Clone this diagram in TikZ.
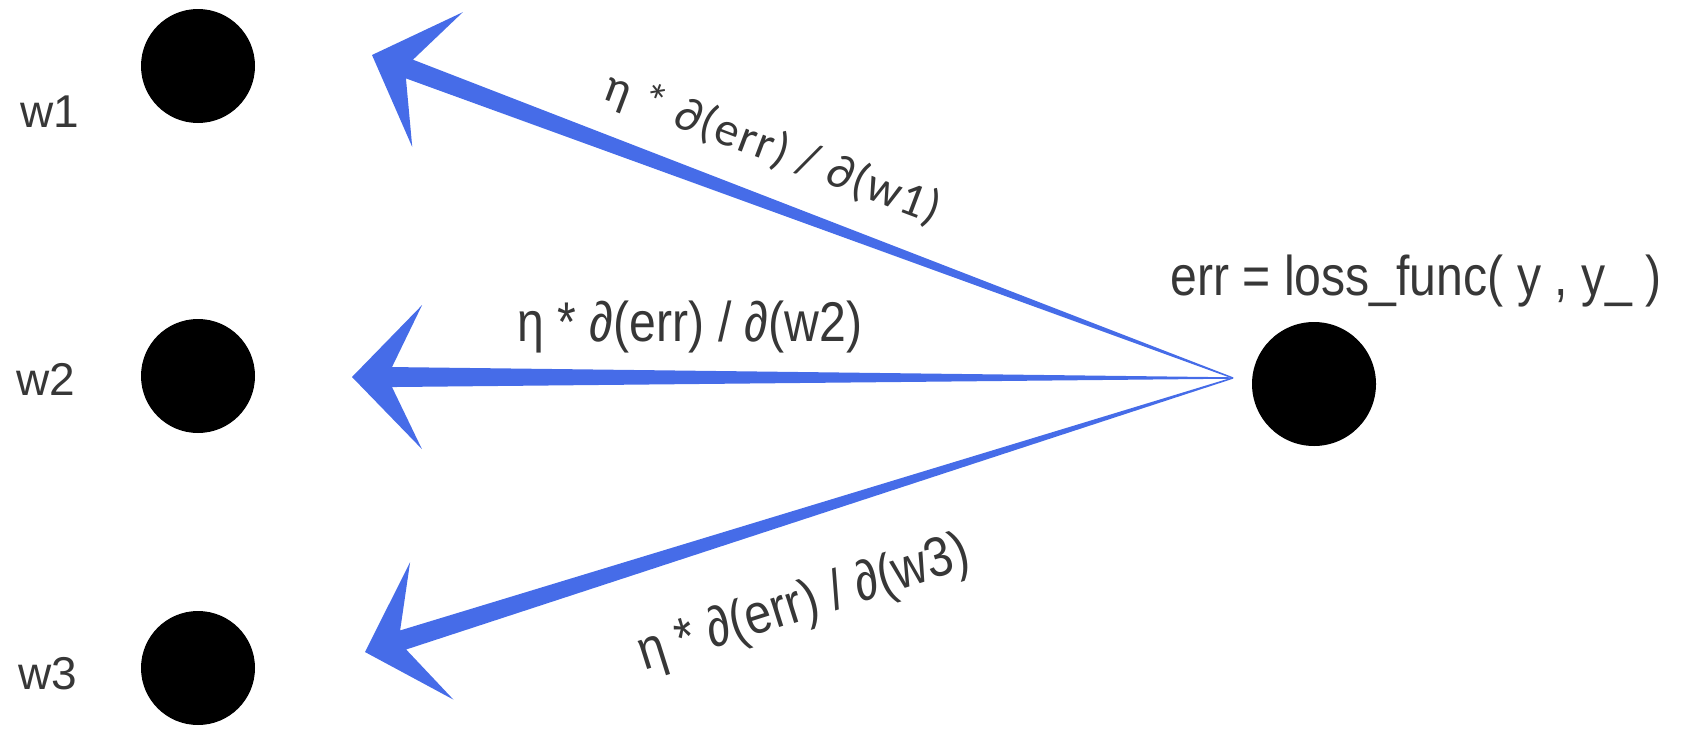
\documentclass[tikz,border=0pt]{standalone}
\usepackage{fontspec}
\setmainfont{Liberation Sans}
\newfontfamily\narrowfont[FakeStretch=0.86]{Liberation Sans}
\newfontfamily\calfont[LetterSpace=3]{Carlito}
\usetikzlibrary{calc}
\definecolor{arrowblue}{RGB}{70,108,232}
\definecolor{txtgray}{RGB}{55,55,55}
\newcommand\gradarrow[2]{%
  \coordinate (barb) at ($(#1)!70pt!(#2)$);
  \coordinate (notch) at ($(#1)!40pt!(#2)$);
  \fill[arrowblue] (#1) -- ($(barb)!72pt!90:(#2)$) -- ($(notch)!10pt!90:(#2)$)
    -- ($(#2)!0.7pt!-90:(#1)$) -- ($(#2)!0.7pt!90:(#1)$)
    -- ($(notch)!10pt!-90:(#2)$) -- ($(barb)!72pt!-90:(#2)$) -- cycle;
}
\begin{document}
\begin{tikzpicture}[x=1pt,y=-1pt,
  dot/.style={circle,fill=black,inner sep=0pt,minimum size=114pt},
  bigdot/.style={circle,fill=black,inner sep=0pt,minimum size=124pt},
  wlabel/.style={text=txtgray,inner sep=0pt,font=\fontsize{46}{55}\selectfont},
  glabel/.style={text=txtgray,inner sep=0pt,font=\narrowfont\fontsize{56}{67}\selectfont},
  clabel/.style={text=txtgray,inner sep=0pt,font=\calfont\fontsize{48}{57}\selectfont}]
\useasboundingbox (0,0) rectangle (1688,728);
% nodes
\node[dot] (w1) at (198,66) {};
\node[dot] (w2) at (198,376) {};
\node[dot] (w3) at (198,668) {};
\node[bigdot] (err) at (1314,384) {};
\node[wlabel] (t1) at (50,112) {w1};
\node[wlabel] (t2) at (46,379) {w2};
\node[wlabel] (t3) at (48,674) {w3};
\node[glabel] (terr) at (1416,281) {err = loss\_func( y , y\_ )};
% arrows
\coordinate (apex) at (1233,378);
\coordinate (tip1) at (372,55);
\coordinate (tip2) at (352,377);
\coordinate (tip3) at (365,652);
\gradarrow{tip1}{apex}
\gradarrow{tip2}{apex}
\gradarrow{tip3}{apex}
% labels
\node[clabel,rotate=-20.7] (g1) at (773,149) {η * ∂(err) / ∂(w1)};
\node[glabel] (g2) at (690,327) {η * ∂(err) / ∂(w2)};
\node[glabel,rotate=17.5] (g3) at (804,605) {η * ∂(err) / ∂(w3)};
\end{tikzpicture}
\end{document}
